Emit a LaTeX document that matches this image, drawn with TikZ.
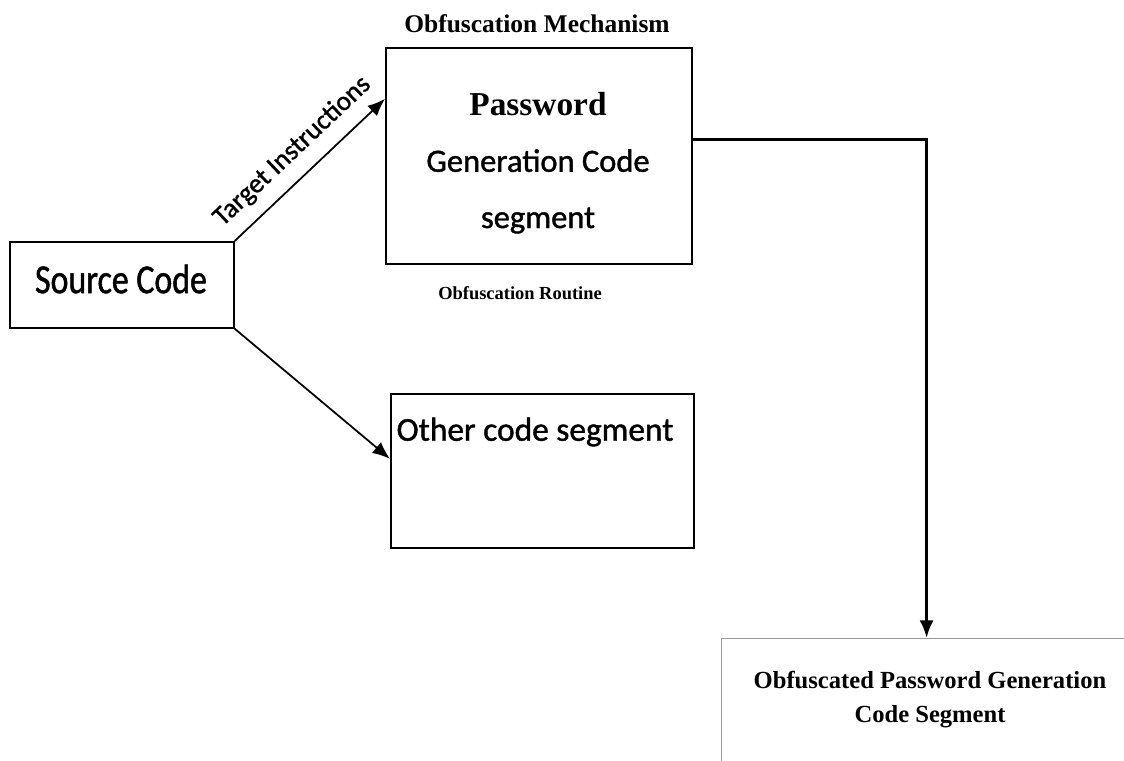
\documentclass[tikz,border=0pt]{standalone}
\usepackage{fontspec}
\setmainfont{Liberation Serif}
\newfontfamily\calib[FakeBold=1.2]{Carlito}
\newfontfamily\calibnarrow[FakeStretch=0.82,FakeBold=1.2]{Carlito}
\usetikzlibrary{arrows.meta}
\begin{document}
\begin{tikzpicture}[x=0.02cm,y=-0.02cm,
  box/.style={draw, line width=1pt, inner sep=0pt},
  conn/.style={line width=1pt, -{Latex[length=10pt,width=8pt]}},
  title/.style={font=\bfseries\fontsize{14.5}{17}\selectfont}]
\useasboundingbox (0,0) rectangle (1124,760);
%\draw[step=50,gray,very thin] (0,0) grid (1124,760);

% boxes
\node[box, anchor=north west, minimum width=4.48cm, minimum height=1.72cm] (src) at (9,241) {};
\node[box, anchor=north west, minimum width=6.12cm, minimum height=4.32cm] (pw) at (385,47) {};
\node[box, anchor=north west, minimum width=6.06cm, minimum height=3.08cm] (other) at (390,393) {};
\node[box, draw=gray!80, line width=0.7pt, anchor=north west,
  minimum width=8.36cm, minimum height=3cm] (obf) at (721,638) {};

% texts
\node[font=\calibnarrow\fontsize{23.5}{28}\selectfont] (srctext) at (121,279) {Source Code};
\node[align=center, font=\calib\fontsize{18.5}{32}\selectfont] (pwtext) at (538,163)
  {{\rmfamily\bfseries\fontsize{19}{32}\selectfont Password}\\Generation Code\\segment};
\node[font=\calib\fontsize{19}{22}\selectfont] (othertext) at (535,432) {Other code segment};
\node[align=center, font=\bfseries\fontsize{14}{19.4}\selectfont] (obftext) at (930,700)
  {Obfuscated Password Generation\\Code Segment};
\node[title] (mech) at (537,24) {Obfuscation Mechanism};
\node[title, font=\bfseries\fontsize{10.5}{13}\selectfont] (routine) at (520,293) {Obfuscation Routine};

% connectors
\draw[conn] (src.north east) -- node[sloped, above=4pt, font=\calib\fontsize{15.5}{18}\selectfont] {Target Instructions}
  ([yshift=1.14cm]pw.west);
\draw[conn] (src.south east) -- ([yshift=0.24cm]other.west);
\draw[conn, line width=1.7pt] ([yshift=0.32cm]pw.east) -| ([xshift=-0.08cm]obf.north);
\end{tikzpicture}
\end{document}
